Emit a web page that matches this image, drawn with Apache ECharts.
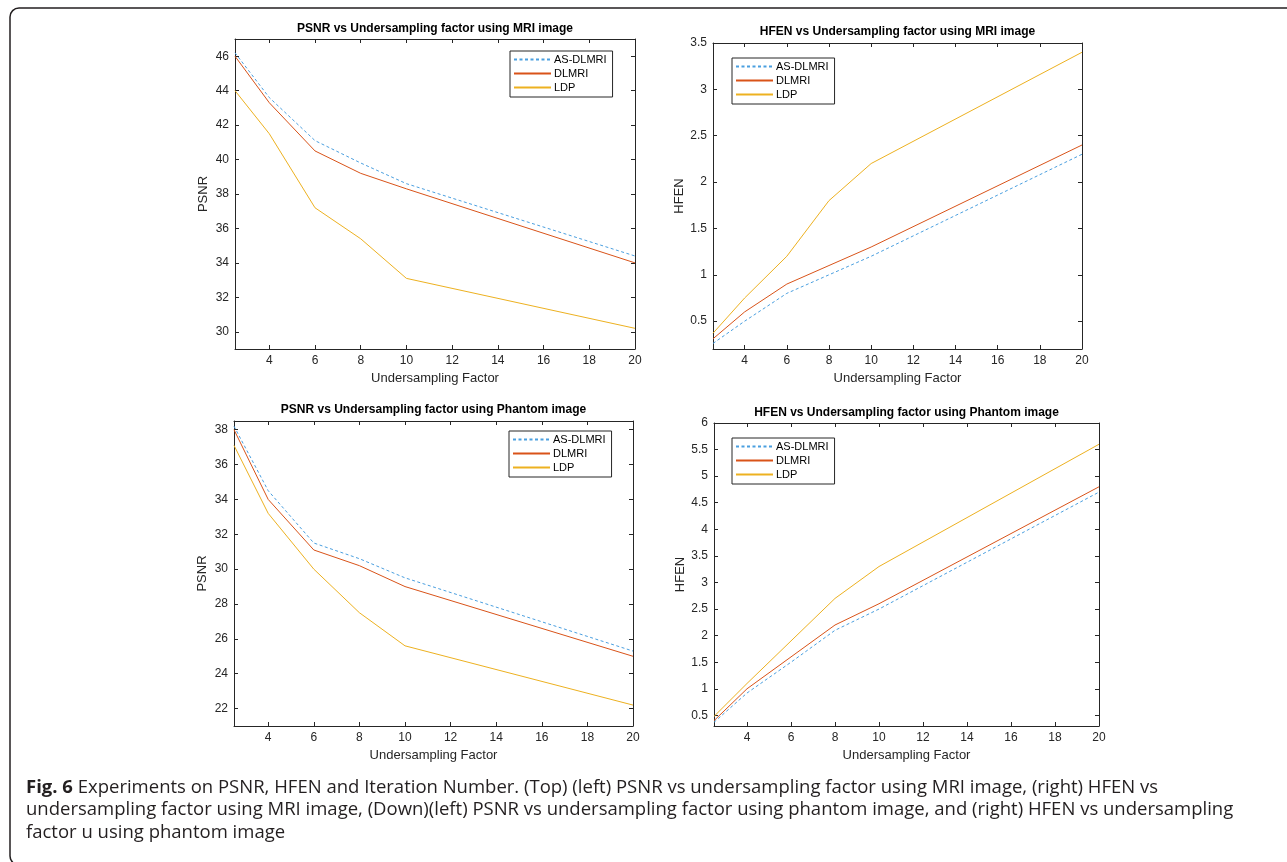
<!DOCTYPE html>
<html>
<head>
<meta charset="utf-8">
<title>PSNR / HFEN vs Undersampling factor</title>
<script src="https://cdn.jsdelivr.net/npm/echarts@6/dist/echarts.min.js"></script>
<style>
  html, body { margin: 0; padding: 0; background: #fff; }
  #chart { width: 1287px; height: 862px; }
</style>
</head>
<body>
<div id="chart"></div>
<script>
// undersampling factors (x) shared by every panel
var factors = [2.5, 4, 6, 8, 10, 20];
var seriesNames = ['AS-DLMRI', 'DLMRI', 'LDP'];

// PSNR, MRI image
var psnrMriAs  = [46.2, 43.6, 41.1, 39.8, 38.6, 34.4];
var psnrMriDl  = [46.0, 43.3, 40.5, 39.2, 38.3, 34.0];
var psnrMriLdp = [44.0, 41.5, 37.2, 35.4, 33.1, 30.2];
// HFEN, MRI image
var hfenMriAs  = [0.26, 0.5, 0.8, 1.0, 1.2, 2.3];
var hfenMriDl  = [0.31, 0.6, 0.9, 1.1, 1.3, 2.4];
var hfenMriLdp = [0.37, 0.75, 1.2, 1.8, 2.2, 3.4];
// PSNR, phantom image
var psnrPhAs  = [38.2, 34.5, 31.5, 30.6, 29.5, 25.3];
var psnrPhDl  = [38.0, 34.0, 31.1, 30.2, 29.0, 25.0];
var psnrPhLdp = [37.1, 33.2, 30.0, 27.5, 25.6, 22.2];
// HFEN, phantom image
var hfenPhAs  = [0.37, 0.92, 1.5, 2.1, 2.5, 4.7];
var hfenPhDl  = [0.40, 1.0, 1.6, 2.2, 2.6, 4.8];
var hfenPhLdp = [0.48, 1.1, 1.9, 2.7, 3.3, 5.6];

// tick labels
var xTicks = [4, 6, 8, 10, 12, 14, 16, 18, 20];
var psnrMriTicks = [30, 32, 34, 36, 38, 40, 42, 44, 46];
var hfenMriTicks = [0.5, 1, 1.5, 2, 2.5, 3, 3.5];
var psnrPhTicks = [22, 24, 26, 28, 30, 32, 34, 36, 38];
var hfenPhTicks = [0.5, 1, 1.5, 2, 2.5, 3, 3.5, 4, 4.5, 5, 5.5, 6];

var colors = ['#4a9fe0', '#D95319', '#EDB120'];
var axisColor = '#262626';

var panels = [
  { title: 'PSNR vs Undersampling factor using MRI image', yName: 'PSNR',
    grid: { left: 235, top: 39, width: 400, height: 310 }, titleTop: 23,
    yMin: 29, yMax: 47, yTicks: psnrMriTicks, lines: [psnrMriAs, psnrMriDl, psnrMriLdp],
    legend: { left: 510, top: 51 } },
  { title: 'HFEN vs Undersampling factor using MRI image', yName: 'HFEN',
    grid: { left: 713, top: 43, width: 369, height: 306 }, titleTop: 26,
    yMin: 0.2, yMax: 3.5, yTicks: hfenMriTicks, lines: [hfenMriAs, hfenMriDl, hfenMriLdp],
    legend: { left: 732, top: 58 } },
  { title: 'PSNR vs Undersampling factor using Phantom image', yName: 'PSNR',
    grid: { left: 234, top: 421, width: 399, height: 305 }, titleTop: 404,
    yMin: 21, yMax: 38.5, yTicks: psnrPhTicks, lines: [psnrPhAs, psnrPhDl, psnrPhLdp],
    legend: { left: 509, top: 431 } },
  { title: 'HFEN vs Undersampling factor using Phantom image', yName: 'HFEN',
    grid: { left: 714, top: 423, width: 385, height: 303 }, titleTop: 407,
    yMin: 0.3, yMax: 6, yTicks: hfenPhTicks, lines: [hfenPhAs, hfenPhDl, hfenPhLdp],
    legend: { left: 732, top: 438 } }
];

function pairs(ys) {
  return factors.map(function (x, i) { return [x, ys[i]]; });
}

function axis(extra, ticks, showLabel) {
  var a = {
    type: 'value',
    scale: true,
    axisLine: { show: true, onZero: false, lineStyle: { color: axisColor, width: 1 } },
    axisTick: { show: true, inside: true, length: 4, customValues: ticks,
                lineStyle: { color: axisColor, width: 1 } },
    axisLabel: { show: showLabel, customValues: ticks, color: axisColor, fontSize: 12,
                 fontFamily: 'Liberation Sans', margin: 6 },
    splitLine: { show: false }
  };
  for (var k in extra) a[k] = extra[k];
  return a;
}

var grids = [], xAxes = [], yAxes = [], titles = [], legends = [], series = [];

panels.forEach(function (p, i) {
  grids.push(p.grid);
  titles.push({
    text: p.title, left: p.grid.left + p.grid.width / 2, top: p.titleTop,
    textAlign: 'center', padding: 0,
    textStyle: { fontSize: 12, fontWeight: 'bold', color: '#000', fontFamily: 'Liberation Sans' }
  });
  xAxes.push(axis({ gridIndex: i, position: 'bottom', min: 2.5, max: 20,
    name: 'Undersampling Factor', nameLocation: 'middle', nameGap: 23,
    nameTextStyle: { color: axisColor, fontSize: 13, fontFamily: 'Liberation Sans' } }, xTicks, true));
  xAxes.push(axis({ gridIndex: i, position: 'top', min: 2.5, max: 20 }, xTicks, false));
  yAxes.push(axis({ gridIndex: i, position: 'left', min: p.yMin, max: p.yMax,
    name: p.yName, nameLocation: 'middle', nameGap: 25,
    nameTextStyle: { color: axisColor, fontSize: 13, fontFamily: 'Liberation Sans' } }, p.yTicks, true));
  yAxes.push(axis({ gridIndex: i, position: 'right', min: p.yMin, max: p.yMax }, p.yTicks, false));

  legends.push({
    orient: 'vertical', left: p.legend.left, top: p.legend.top,
    data: seriesNames, itemWidth: 37, itemHeight: 11, itemGap: 3,
    padding: [3, 6, 4, 3],
    backgroundColor: '#fff', borderColor: axisColor, borderWidth: 1,
    selectedMode: false,
    itemStyle: { opacity: 0 },
    textStyle: { fontSize: 11, color: '#000', fontFamily: 'Liberation Sans', padding: [0, 0, 0, -2] }
  });

  p.lines.forEach(function (ys, j) {
    series.push({
      name: seriesNames[j], type: 'line', xAxisIndex: 2 * i, yAxisIndex: 2 * i,
      data: pairs(ys), symbol: 'none', showSymbol: false, animation: false,
      color: colors[j],
      lineStyle: { color: colors[j], width: 1, type: j === 0 ? [3, 2.5] : 'solid' },
      z: 3 - j
    });
  });
});

var capFont = '18.5px "Open Sans"';
var chart = echarts.init(document.getElementById('chart'));
chart.setOption({
  backgroundColor: '#fff',
  animation: false,
  title: titles,
  grid: grids,
  xAxis: xAxes,
  yAxis: yAxes,
  legend: legends,
  series: series,
  graphic: [
    { type: 'rect', shape: { x: 10, y: 8, width: 1290, height: 857, r: 9 },
      style: { fill: 'none', stroke: '#231f20', lineWidth: 1.5 }, silent: true },
    { type: 'text', left: 26, top: 778,
      style: { text: '{b|Fig. 6} Experiments on PSNR, HFEN and Iteration Number. (Top) (left) PSNR vs undersampling factor using MRI image, (right) HFEN vs',
        font: capFont, fill: '#231f20',
        rich: { b: { fontWeight: 'bold', fontSize: 18.5, fontFamily: 'Open Sans', fill: '#231f20' } } } },
    { type: 'text', left: 26, top: 800,
      style: { text: 'undersampling factor using MRI image, (Down)(left) PSNR vs undersampling factor using phantom image, and (right) HFEN vs undersampling',
        font: capFont, fill: '#231f20' } },
    { type: 'text', left: 26, top: 823,
      style: { text: 'factor u using phantom image', font: capFont, fill: '#231f20' } }
  ]
});
</script>
</body>
</html>
